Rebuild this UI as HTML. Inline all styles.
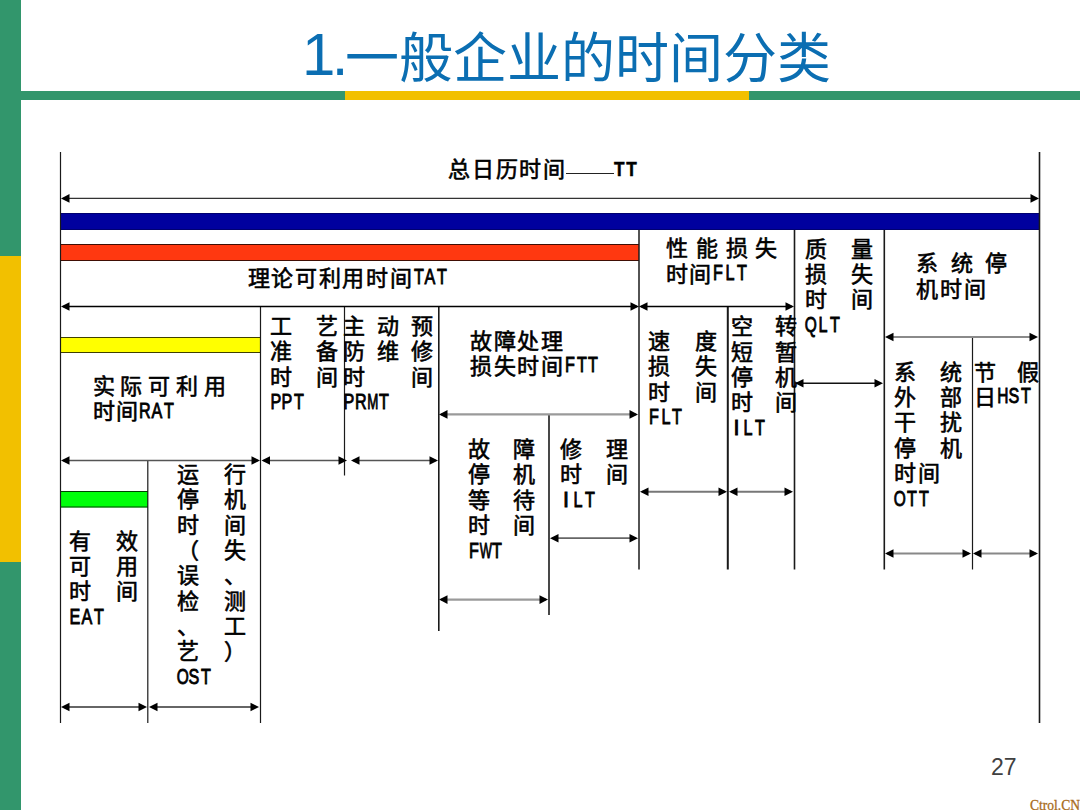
<!DOCTYPE html>
<html lang="zh-CN"><head><meta charset="utf-8"><title>一般企业的时间分类</title>
<style>
html,body{margin:0;padding:0;background:#fff;}
body{width:1080px;height:810px;position:relative;overflow:hidden;font-family:"Liberation Sans",sans-serif;}
.lb{position:absolute;left:0;top:0;width:21px;height:810px;background:#32966c;}
.lby{position:absolute;left:0;top:256px;width:21px;height:306px;background:#f2c000;}
.hb{position:absolute;top:90.5px;height:9px;}
.title{position:absolute;left:302px;top:26px;font-size:54px;line-height:64px;color:#0b6eb2;white-space:nowrap;}
.title .n{font-size:60px;letter-spacing:-3.6px;position:relative;top:-3px;}
.title .k{letter-spacing:0px;}
.dg{position:absolute;left:0;top:0;}
.t{position:absolute;font-size:22px;line-height:25.3px;height:25.3px;color:#000;white-space:nowrap;-webkit-text-stroke:0.6px #000;}
.t .c{letter-spacing:1.7px;}
.t .c+.l{margin-left:-1px;}
.t.j{display:flex;justify-content:space-between;}
.t .l{display:inline-block;position:relative;top:-1.8px;font-size:21.5px;-webkit-text-stroke:0.9px #000;}
.t .lo{top:-0.5px;}
.t .l b{display:inline-flex;justify-content:center;width:11.75px;font-weight:400;}
.tt{position:absolute;font-size:21px;line-height:24px;font-weight:700;color:#000;transform:scaleX(.82);transform-origin:0 0;-webkit-text-stroke:0.5px #000;letter-spacing:2px;}
.dash{position:absolute;height:1px;background:#222;}
.pn{position:absolute;left:991px;top:752px;font-size:23px;color:#404040;line-height:30px;}
.wm{position:absolute;left:1030px;top:796px;font-family:"Liberation Serif",serif;font-size:15px;color:#a86c20;line-height:18px;white-space:nowrap;transform:scaleX(.9);transform-origin:0 0;-webkit-text-stroke:0.3px #a86c20;}
</style></head>
<body>
<div class="lb"></div><div class="lby"></div>
<div class="hb" style="left:21px;width:324px;background:#32966c"></div>
<div class="hb" style="left:345px;width:403.5px;background:#f2c000"></div>
<div class="hb" style="left:748.5px;width:331.5px;background:#32966c"></div>
<div class="title"><span class="n">1.</span><span class="k">一般企业的时间分类</span></div>
<svg class="dg" width="1080" height="810" viewBox="0 0 1080 810"><rect x="61" y="213" width="978" height="17" fill="#00009e"/><line x1="61" y1="213.5" x2="1039" y2="213.5" stroke="#000070" stroke-width="1"/><line x1="61" y1="229.5" x2="1039" y2="229.5" stroke="#000070" stroke-width="1"/><rect x="61" y="244" width="578" height="17" fill="#ff3810"/><line x1="61" y1="244.5" x2="639" y2="244.5" stroke="rgba(0,0,0,.75)" stroke-width="1"/><line x1="61" y1="260.5" x2="639" y2="260.5" stroke="rgba(0,0,0,.75)" stroke-width="1"/><rect x="61" y="337" width="199" height="16" fill="#ffff00"/><line x1="61" y1="337.5" x2="260" y2="337.5" stroke="rgba(0,0,0,.75)" stroke-width="1"/><line x1="61" y1="352.5" x2="260" y2="352.5" stroke="rgba(0,0,0,.75)" stroke-width="1"/><rect x="61" y="491" width="87" height="16.5" fill="#00ff0a"/><line x1="61" y1="491.5" x2="148" y2="491.5" stroke="rgba(0,0,0,.75)" stroke-width="1"/><line x1="61" y1="507.0" x2="148" y2="507.0" stroke="rgba(0,0,0,.75)" stroke-width="1"/><line x1="60.5" y1="152" x2="60.5" y2="723" stroke="#1a1a1a" stroke-width="1.2"/><line x1="1039.5" y1="152" x2="1039.5" y2="723" stroke="#1a1a1a" stroke-width="1.6"/><line x1="639" y1="230" x2="639" y2="569.5" stroke="#1a1a1a" stroke-width="1.5"/><line x1="260.5" y1="306" x2="260.5" y2="723" stroke="#1a1a1a" stroke-width="1.2"/><line x1="344.5" y1="306" x2="344.5" y2="475.5" stroke="#1a1a1a" stroke-width="1.2"/><line x1="438.8" y1="306" x2="438.8" y2="631" stroke="#1a1a1a" stroke-width="1.6"/><line x1="147.8" y1="460" x2="147.8" y2="723" stroke="#1a1a1a" stroke-width="1.2"/><line x1="549" y1="414" x2="549" y2="615" stroke="#1a1a1a" stroke-width="1.6"/><line x1="727.8" y1="306" x2="727.8" y2="569.5" stroke="#1a1a1a" stroke-width="2"/><line x1="794.5" y1="230" x2="794.5" y2="569.5" stroke="#1a1a1a" stroke-width="1.6"/><line x1="884.3" y1="230" x2="884.3" y2="569.5" stroke="#1a1a1a" stroke-width="1.6"/><line x1="972.5" y1="337" x2="972.5" y2="569.5" stroke="#1a1a1a" stroke-width="1.2"/><line x1="63" y1="198.4" x2="1037" y2="198.4" stroke="#333" stroke-width="1.1"/><polygon points="61,198.4 69.5,194.1 69.5,202.70000000000002" fill="#000"/><polygon points="1039,198.4 1030.5,194.1 1030.5,202.70000000000002" fill="#000"/><line x1="63" y1="306.5" x2="637" y2="306.5" stroke="#000" stroke-width="1.6"/><polygon points="61,306.5 69.5,302.2 69.5,310.8" fill="#000"/><polygon points="639,306.5 630.5,302.2 630.5,310.8" fill="#000"/><line x1="641" y1="306.5" x2="792" y2="306.5" stroke="#000" stroke-width="1.6"/><polygon points="639,306.5 647.5,302.2 647.5,310.8" fill="#000"/><polygon points="794,306.5 785.5,302.2 785.5,310.8" fill="#000"/><line x1="63" y1="460.5" x2="258" y2="460.5" stroke="#555" stroke-width="1.6"/><polygon points="61,460.5 69.5,456.2 69.5,464.8" fill="#000"/><polygon points="260,460.5 251.5,456.2 251.5,464.8" fill="#000"/><line x1="263.5" y1="460.5" x2="345" y2="460.5" stroke="#555" stroke-width="1.6"/><polygon points="261.5,460.5 270.0,456.2 270.0,464.8" fill="#000"/><polygon points="347,460.5 338.5,456.2 338.5,464.8" fill="#000"/><line x1="353" y1="460.5" x2="436" y2="460.5" stroke="#555" stroke-width="1.6"/><polygon points="351,460.5 359.5,456.2 359.5,464.8" fill="#000"/><polygon points="438,460.5 429.5,456.2 429.5,464.8" fill="#000"/><line x1="441" y1="414.4" x2="636" y2="414.4" stroke="#9a9a9a" stroke-width="2.2"/><polygon points="439,414.4 447.5,410.09999999999997 447.5,418.7" fill="#000"/><polygon points="638,414.4 629.5,410.09999999999997 629.5,418.7" fill="#000"/><line x1="797" y1="383.3" x2="881" y2="383.3" stroke="#111" stroke-width="1.6"/><polygon points="795,383.3 803.5,379.0 803.5,387.6" fill="#000"/><polygon points="883,383.3 874.5,379.0 874.5,387.6" fill="#000"/><line x1="887" y1="337" x2="1036" y2="337" stroke="#8a8a8a" stroke-width="2.2"/><polygon points="885,337 893.5,332.7 893.5,341.3" fill="#000"/><polygon points="1038,337 1029.5,332.7 1029.5,341.3" fill="#000"/><line x1="441" y1="599.6" x2="546" y2="599.6" stroke="#9a9a9a" stroke-width="2.2"/><polygon points="439,599.6 447.5,595.3000000000001 447.5,603.9" fill="#000"/><polygon points="548,599.6 539.5,595.3000000000001 539.5,603.9" fill="#000"/><line x1="552" y1="538.2" x2="636" y2="538.2" stroke="#666" stroke-width="1.8"/><polygon points="550,538.2 558.5,533.9000000000001 558.5,542.5" fill="#000"/><polygon points="638,538.2 629.5,533.9000000000001 629.5,542.5" fill="#000"/><line x1="642" y1="491.7" x2="725" y2="491.7" stroke="#777" stroke-width="2"/><polygon points="640,491.7 648.5,487.4 648.5,496.0" fill="#000"/><polygon points="727,491.7 718.5,487.4 718.5,496.0" fill="#000"/><line x1="731" y1="491.7" x2="791" y2="491.7" stroke="#777" stroke-width="2"/><polygon points="729,491.7 737.5,487.4 737.5,496.0" fill="#000"/><polygon points="793,491.7 784.5,487.4 784.5,496.0" fill="#000"/><line x1="887" y1="553.5" x2="969" y2="553.5" stroke="#888" stroke-width="2"/><polygon points="885,553.5 893.5,549.2 893.5,557.8" fill="#000"/><polygon points="971,553.5 962.5,549.2 962.5,557.8" fill="#000"/><line x1="975" y1="553.5" x2="1036" y2="553.5" stroke="#888" stroke-width="2"/><polygon points="973,553.5 981.5,549.2 981.5,557.8" fill="#000"/><polygon points="1038,553.5 1029.5,549.2 1029.5,557.8" fill="#000"/><line x1="63" y1="707" x2="145" y2="707" stroke="#666" stroke-width="2.2"/><polygon points="61,707 69.5,702.7 69.5,711.3" fill="#000"/><polygon points="147,707 138.5,702.7 138.5,711.3" fill="#000"/><line x1="151" y1="707" x2="257" y2="707" stroke="#666" stroke-width="2.2"/><polygon points="149,707 157.5,702.7 157.5,711.3" fill="#000"/><polygon points="259,707 250.5,702.7 250.5,711.3" fill="#000"/></svg>
<div class="t" style="left:448.2px;top:157.3px"><span class="c">总日历时间</span></div>
<div class="dash" style="left:566px;top:173px;width:48px"></div>
<div class="tt" style="left:613.5px;top:157px">TT</div>
<div class="t" style="left:247.7px;top:266.1px"><span class="c">理论可利用时间</span><span class="l"><b style="transform:scaleX(0.75)">T</b><b style="transform:scaleX(0.75)">A</b><b style="transform:scaleX(0.75)">T</b></span></div>
<div class="t j" style="left:665.6px;top:236.3px;width:111.9px"><span>性</span><span>能</span><span>损</span><span>失</span></div>
<div class="t" style="left:665.6px;top:261.6px"><span class="c">时间</span><span class="l"><b style="transform:scaleX(0.75)">F</b><b style="transform:scaleX(0.75)">L</b><b style="transform:scaleX(0.75)">T</b></span></div>
<div class="t j" style="left:805.1px;top:236.5px;width:67.5px"><span>质</span><span>量</span></div>
<div class="t j" style="left:805.1px;top:261.8px;width:67.5px"><span>损</span><span>失</span></div>
<div class="t j" style="left:805.1px;top:287.1px;width:67.5px"><span>时</span><span>间</span></div>
<div class="t" style="left:805.1px;top:312.4px"><span class="l lo"><b style="transform:scaleX(0.72)">Q</b><b style="transform:scaleX(0.75)">L</b><b style="transform:scaleX(0.75)">T</b></span></div>
<div class="t j" style="left:916.3px;top:251.3px;width:90.7px"><span>系</span><span>统</span><span>停</span></div>
<div class="t" style="left:916.3px;top:276.6px"><span class="c">机时间</span></div>
<div class="t j" style="left:92.6px;top:374.1px;width:133.0px"><span>实</span><span>际</span><span>可</span><span>利</span><span>用</span></div>
<div class="t" style="left:92.6px;top:399.4px"><span class="c">时间</span><span class="l"><b style="transform:scaleX(0.75)">R</b><b style="transform:scaleX(0.75)">A</b><b style="transform:scaleX(0.75)">T</b></span></div>
<div class="t j" style="left:269.7px;top:314.0px;width:68.3px"><span>工</span><span>艺</span></div>
<div class="t j" style="left:269.7px;top:339.3px;width:68.3px"><span>准</span><span>备</span></div>
<div class="t j" style="left:269.7px;top:364.6px;width:68.3px"><span>时</span><span>间</span></div>
<div class="t" style="left:269.7px;top:389.9px"><span class="l lo"><b style="transform:scaleX(0.75)">P</b><b style="transform:scaleX(0.75)">P</b><b style="transform:scaleX(0.75)">T</b></span></div>
<div class="t j" style="left:343.0px;top:314.0px;width:90.0px"><span>主</span><span>动</span><span>预</span></div>
<div class="t j" style="left:343.0px;top:339.3px;width:90.0px"><span>防</span><span>维</span><span>修</span></div>
<div class="t j" style="left:343.0px;top:364.6px;width:90.0px"><span>时</span><span>间</span></div>
<div class="t" style="left:343.0px;top:389.9px"><span class="l lo"><b style="transform:scaleX(0.75)">P</b><b style="transform:scaleX(0.75)">R</b><b style="transform:scaleX(0.62)">M</b><b style="transform:scaleX(0.75)">T</b></span></div>
<div class="t" style="left:470.0px;top:328.5px"><span class="c">故障处理</span></div>
<div class="t" style="left:470.0px;top:353.8px"><span class="c">损失时间</span><span class="l"><b style="transform:scaleX(0.75)">F</b><b style="transform:scaleX(0.75)">T</b><b style="transform:scaleX(0.75)">T</b></span></div>
<div class="t j" style="left:647.9px;top:328.9px;width:69.2px"><span>速</span><span>度</span></div>
<div class="t j" style="left:647.9px;top:354.2px;width:69.2px"><span>损</span><span>失</span></div>
<div class="t j" style="left:647.9px;top:379.5px;width:69.2px"><span>时</span><span>间</span></div>
<div class="t" style="left:647.9px;top:404.8px"><span class="l lo"><b style="transform:scaleX(0.75)">F</b><b style="transform:scaleX(0.75)">L</b><b style="transform:scaleX(0.75)">T</b></span></div>
<div class="t j" style="left:730.7px;top:314.2px;width:66.3px"><span>空</span><span>转</span></div>
<div class="t j" style="left:730.7px;top:339.5px;width:66.3px"><span>短</span><span>暂</span></div>
<div class="t j" style="left:730.7px;top:364.8px;width:66.3px"><span>停</span><span>机</span></div>
<div class="t j" style="left:730.7px;top:390.1px;width:66.3px"><span>时</span><span>间</span></div>
<div class="t" style="left:730.7px;top:415.4px"><span class="l lo"><b style="transform:scaleX(1)">I</b><b style="transform:scaleX(0.75)">L</b><b style="transform:scaleX(0.75)">T</b></span></div>
<div class="t j" style="left:467.8px;top:437.1px;width:67.0px"><span>故</span><span>障</span></div>
<div class="t j" style="left:467.8px;top:462.4px;width:67.0px"><span>停</span><span>机</span></div>
<div class="t j" style="left:467.8px;top:487.7px;width:67.0px"><span>等</span><span>待</span></div>
<div class="t j" style="left:467.8px;top:513.0px;width:67.0px"><span>时</span><span>间</span></div>
<div class="t" style="left:467.8px;top:538.3px"><span class="l lo"><b style="transform:scaleX(0.75)">F</b><b style="transform:scaleX(0.6)">W</b><b style="transform:scaleX(0.75)">T</b></span></div>
<div class="t j" style="left:560.2px;top:437.1px;width:67.8px"><span>修</span><span>理</span></div>
<div class="t j" style="left:560.2px;top:462.4px;width:67.8px"><span>时</span><span>间</span></div>
<div class="t" style="left:560.2px;top:487.7px"><span class="l lo"><b style="transform:scaleX(1)">I</b><b style="transform:scaleX(0.75)">L</b><b style="transform:scaleX(0.75)">T</b></span></div>
<div class="t j" style="left:894.0px;top:359.8px;width:67.6px"><span>系</span><span>统</span></div>
<div class="t j" style="left:894.0px;top:385.1px;width:67.6px"><span>外</span><span>部</span></div>
<div class="t j" style="left:894.0px;top:410.4px;width:67.6px"><span>干</span><span>扰</span></div>
<div class="t j" style="left:894.0px;top:435.7px;width:67.6px"><span>停</span><span>机</span></div>
<div class="t" style="left:894.0px;top:461.0px"><span class="c">时间</span></div>
<div class="t" style="left:894.0px;top:486.3px"><span class="l lo"><b style="transform:scaleX(0.72)">O</b><b style="transform:scaleX(0.75)">T</b><b style="transform:scaleX(0.75)">T</b></span></div>
<div class="t j" style="left:973.8px;top:359.8px;width:65.5px"><span>节</span><span>假</span></div>
<div class="t" style="left:973.8px;top:385.1px"><span class="c">日</span><span class="l"><b style="transform:scaleX(0.72)">H</b><b style="transform:scaleX(0.75)">S</b><b style="transform:scaleX(0.75)">T</b></span></div>
<div class="t j" style="left:69.3px;top:528.5px;width:68.7px"><span>有</span><span>效</span></div>
<div class="t j" style="left:69.3px;top:553.8px;width:68.7px"><span>可</span><span>用</span></div>
<div class="t j" style="left:69.3px;top:579.1px;width:68.7px"><span>时</span><span>间</span></div>
<div class="t" style="left:69.3px;top:604.4px"><span class="l lo"><b style="transform:scaleX(0.75)">E</b><b style="transform:scaleX(0.75)">A</b><b style="transform:scaleX(0.75)">T</b></span></div>
<div class="t j" style="left:176.5px;top:462.1px;width:69.1px"><span>运</span><span>行</span></div>
<div class="t j" style="left:176.5px;top:487.4px;width:69.1px"><span>停</span><span>机</span></div>
<div class="t j" style="left:176.5px;top:512.7px;width:69.1px"><span>时</span><span>间</span></div>
<div class="t j" style="left:176.5px;top:538.0px;width:69.1px"><span>（</span><span>失</span></div>
<div class="t j" style="left:176.5px;top:563.3px;width:69.1px"><span>误</span><span>、</span></div>
<div class="t j" style="left:176.5px;top:588.6px;width:69.1px"><span>检</span><span>测</span></div>
<div class="t j" style="left:176.5px;top:613.9px;width:69.1px"><span>、</span><span>工</span></div>
<div class="t j" style="left:176.5px;top:639.2px;width:69.1px"><span>艺</span><span>）</span></div>
<div class="t" style="left:176.5px;top:664.5px"><span class="l lo"><b style="transform:scaleX(0.72)">O</b><b style="transform:scaleX(0.75)">S</b><b style="transform:scaleX(0.75)">T</b></span></div>
<div class="pn">27</div>
<div class="wm">Ctrol.CN</div>
</body></html>
